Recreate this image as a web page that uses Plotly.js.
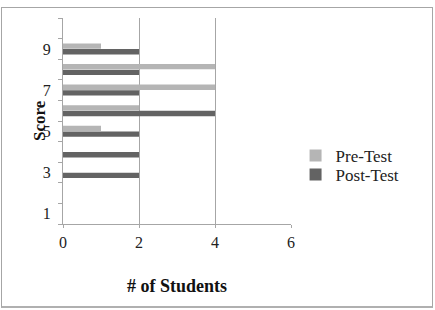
<!DOCTYPE html>
<html>
<head>
<meta charset="utf-8">
<script src="https://cdn.plot.ly/plotly-3.0.1.min.js"></script>
<style>
html,body{margin:0;padding:0;background:#fff;}
#wrap{position:relative;width:435px;height:310px;}
#chart{position:absolute;left:0;top:0;width:435px;height:310px;}
#frame{position:absolute;left:1px;top:7px;width:430px;height:298px;border:1px solid #a6a6a6;border-bottom:2px solid #b0b0b0;pointer-events:none;}
</style>
</head>
<body>
<div id="wrap"><div id="chart"></div><div id="frame"></div></div>
<script>
var scores = [1, 2, 3, 4, 5, 6, 7, 8, 9, 10];
var preTest = [null, null, null, null, 1, 2, 4, 4, 1, null];
var postTest = [null, null, 2, 2, 2, 4, 2, 2, 2, null];
var scoreTickLabels = ['1', '3', '5', '7', '9'];
var scoreTickVals = [1, 3, 5, 7, 9];
var xTicks = [0, 2, 4, 6];

var serif = 'Liberation Serif, Times New Roman, serif';
var legendFont = {family: serif, size: 17, color: '#222'};

var traces = [
  {type: 'bar', orientation: 'h', name: 'Post-Test', y: scores, x: postTest,
   marker: {color: '#636363'}, legend: 'legend2'},
  {type: 'bar', orientation: 'h', name: 'Pre-Test', y: scores, x: preTest,
   marker: {color: '#b5b5b5'}, legend: 'legend'}
];

var layout = {
  width: 435, height: 310,
  margin: {l: 63, r: 144, t: 18, b: 86},
  paper_bgcolor: 'rgba(0,0,0,0)', plot_bgcolor: 'rgba(0,0,0,0)',
  barmode: 'group', bargap: 0.45, bargroupgap: 0.05,
  font: {family: serif, size: 16, color: '#222'},
  showlegend: true,
  legend: {x: 1.02, y: 0.33, xanchor: 'left', yanchor: 'middle',
           font: legendFont, itemwidth: 30, bgcolor: 'rgba(0,0,0,0)'},
  legend2: {x: 1.02, y: 0.238, xanchor: 'left', yanchor: 'middle',
           font: legendFont, itemwidth: 30, bgcolor: 'rgba(0,0,0,0)'},
  xaxis: {range: [0, 6], tickvals: xTicks, ticktext: xTicks.map(String),
          showgrid: true, gridcolor: '#a6a6a6', gridwidth: 1,
          showline: true, linecolor: '#a6a6a6', linewidth: 1,
          ticks: 'outside', ticklen: 3, tickcolor: '#a6a6a6',
          ticklabelstandoff: 1,
          zeroline: false, fixedrange: true,
          title: {text: '<b># of Students</b>', font: {family: serif, size: 18, color: '#111'}, standoff: 29}},
  yaxis: {range: [0.5, 10.5], tickvals: scoreTickVals, ticktext: scoreTickLabels,
          showgrid: false, zeroline: false,
          showline: true, linecolor: '#a6a6a6', linewidth: 1,
          ticks: 'outside', ticklen: 4, tickcolor: 'rgba(0,0,0,0)',
          ticklabelstandoff: 4,
          minor: {tick0: 0.5, dtick: 1, ticks: 'outside', ticklen: 4, tickcolor: '#a6a6a6', showgrid: false},
          fixedrange: true},
  annotations: [{text: '<b>Score</b>', xref: 'paper', yref: 'paper',
                 x: -0.105, y: 0.5, xanchor: 'center', yanchor: 'middle',
                 textangle: -90, showarrow: false,
                 font: {family: serif, size: 17, color: '#111'}}]
};

Plotly.newPlot('chart', traces, layout, {staticPlot: true, displayModeBar: false});
</script>
</body>
</html>
